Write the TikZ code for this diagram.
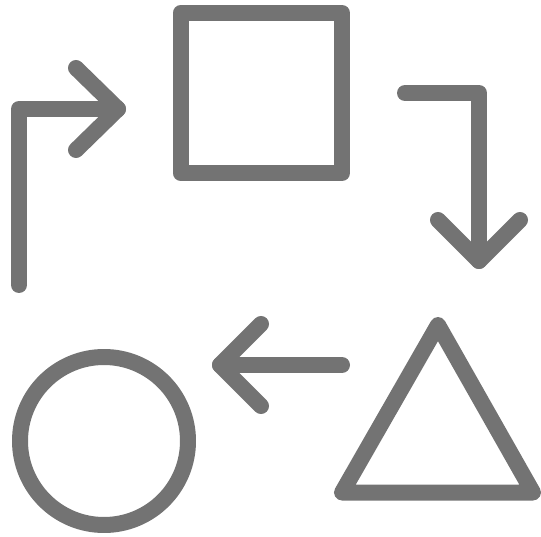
\documentclass[tikz,border=0pt]{standalone}
\definecolor{icongray}{HTML}{737373}
\begin{document}
\begin{tikzpicture}[x=1pt,y=-1pt,line width=16pt,line cap=round,line join=round,icongray]
    \useasboundingbox (0,0) rectangle (541,537);
    %--- square ---
    \draw (180.5,13) rectangle (342,173);
    %--- arrow up and right ---
    \draw (19,285) -- (19,109) -- (118,109);
    \draw (76,68) -- (118,109) -- (76,150);
    %--- arrow right and down ---
    \draw (405,93) -- (479,93) -- (479,261);
    \draw (438,220) -- (479,261) -- (520,220);
    %--- arrow left ---
    \draw (342,365) -- (220,365);
    \draw (261,324) -- (220,365) -- (261,406);
    %--- circle ---
    \draw (104,441) circle[radius=84];
    %--- triangle ---
    \draw (438,325) -- (533,492.5) -- (342,492.5) -- cycle;
\end{tikzpicture}
\end{document}
